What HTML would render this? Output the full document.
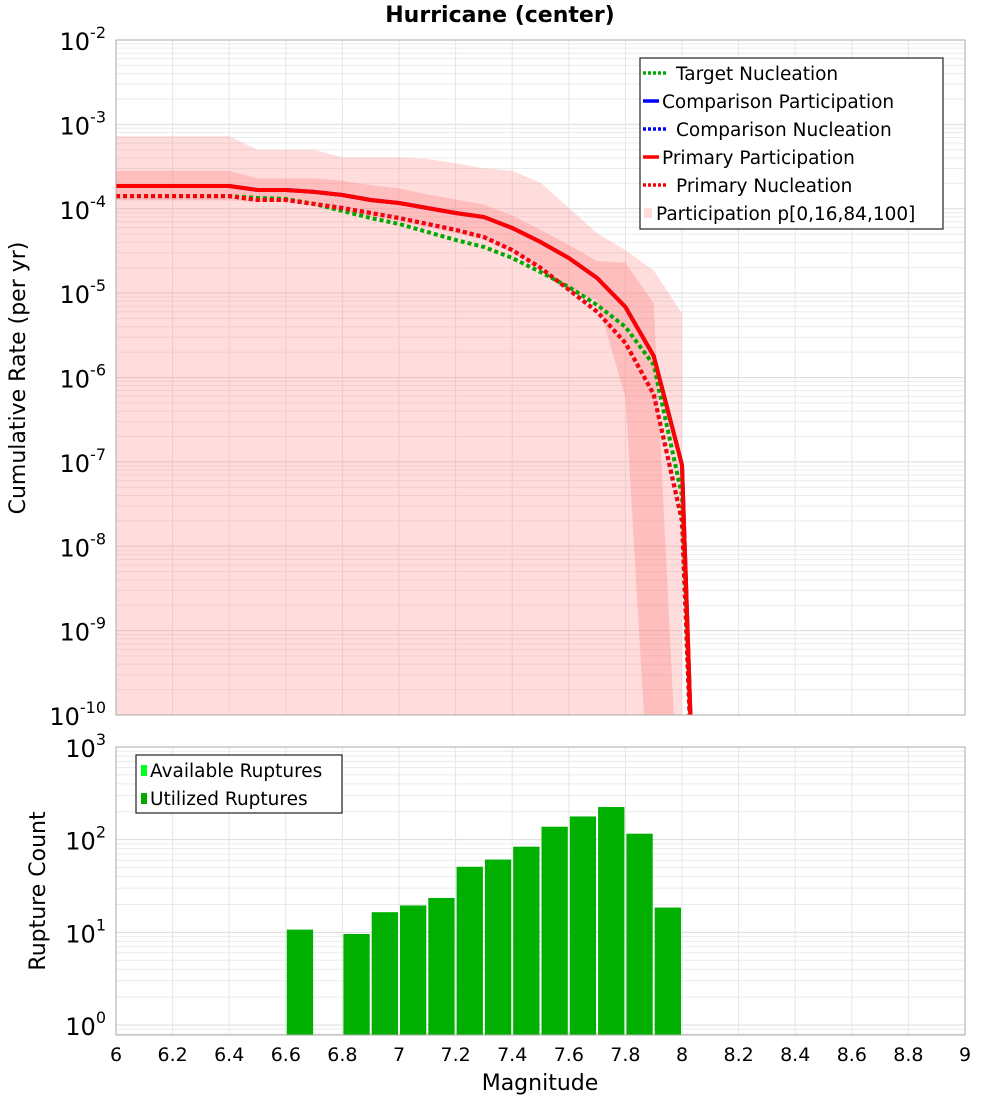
<!DOCTYPE html>
<html><head><meta charset="utf-8">
<style>
html,body{margin:0;padding:0;background:#fff;}
svg{display:block;font-family:"DejaVu Sans","Liberation Sans",sans-serif;}
</style></head>
<body>
<svg id="chart" width="1000" height="1100" viewBox="0 0 1000 1100" xmlns="http://www.w3.org/2000/svg">
<text x="500" y="22" text-anchor="middle" font-size="22" font-weight="bold">Hurricane (center)</text>
<g id="topPlot"></g>
<g id="botPlot"></g>
</svg>
<script>
// ---- data (top panel, log10 values) ----
const mags = [6.0,6.4,6.5,6.6,6.7,6.8,6.9,7.0,7.1,7.2,7.3,7.4,7.5,7.6,7.7,7.8,7.9,8.0,8.05];
const primaryPartLog = [-3.73,-3.73,-3.778,-3.778,-3.80,-3.837,-3.896,-3.932,-3.991,-4.05,-4.098,-4.228,-4.394,-4.584,-4.821,-5.164,-5.745,-7.037,-12];
const primaryNuclLog = [-3.85,-3.85,-3.896,-3.896,-3.943,-3.991,-4.05,-4.11,-4.18,-4.25,-4.335,-4.49,-4.70,-4.96,-5.22,-5.59,-6.20,-7.7,-12];
const targetNuclLog = [-3.85,-3.85,-3.872,-3.884,-3.943,-4.026,-4.11,-4.18,-4.275,-4.37,-4.453,-4.583,-4.75,-4.927,-5.14,-5.40,-5.85,-7.4,-12];
const bandX = [6.0,6.4,6.5,6.6,6.7,6.8,6.9,7.0,7.1,7.2,7.3,7.4,7.5,7.6,7.7,7.8,7.9,8.0];
const p100Log = [-3.14,-3.14,-3.30,-3.30,-3.30,-3.39,-3.39,-3.39,-3.41,-3.46,-3.52,-3.55,-3.69,-3.99,-4.29,-4.49,-4.73,-5.24];
const p84Log = [-3.55,-3.55,-3.64,-3.64,-3.64,-3.67,-3.72,-3.76,-3.83,-3.89,-3.95,-4.08,-4.25,-4.43,-4.62,-4.64,-5.12,-12];
const p16Log = [-3.90,-3.90,-3.92,-3.92,-3.97,-4.03,-4.09,-4.15,-4.22,-4.29,-4.37,-4.52,-4.72,-4.98,-5.08,-6.23,-12,-12];
// ---- data (bottom panel) ----
const binStarts = [6.6,6.8,6.9,7.0,7.1,7.2,7.3,7.4,7.5,7.6,7.7,7.8,7.9];
const ruptureCounts = [10.7,9.6,16.5,19.5,23.5,51,61,84,138,178,225,116,18.5];
const xTicks = ["6","6.2","6.4","6.6","6.8","7","7.2","7.4","7.6","7.8","8","8.2","8.4","8.6","8.8","9"];

const NS="http://www.w3.org/2000/svg";
function mk(parent,tag,attrs){const e=document.createElementNS(NS,tag);for(const k in attrs)e.setAttribute(k,attrs[k]);parent.appendChild(e);return e;}
const X0=116,X1=965;
const xs=m=>X0+(m-6)/3*(X1-X0);
const T0=40,T1=715; const yt=l=>T0+(-2-l)/8*(T1-T0);
const B0=747,B3=1025,B1=1035; const yb=v=>B0+(3-Math.log10(v))/3*(B3-B0);

const svgEl=document.getElementById('chart');
const defs=mk(svgEl,'defs',{});
const cp=mk(defs,'clipPath',{id:'clipTop'});mk(cp,'rect',{x:X0,y:T0,width:X1-X0,height:T1-T0});
const cp2=mk(defs,'clipPath',{id:'clipBot'});mk(cp2,'rect',{x:X0,y:B0,width:X1-X0,height:B1-B0});

function sup(parent,x,y,e){
  const t=mk(parent,'text',{x:x,y:y,'text-anchor':'end','font-size':24});
  
  
  const a=mk(t,'tspan',{});a.textContent='10';
  const b=mk(t,'tspan',{dy:-12,'font-size':16});b.textContent=String(e);
  return t;
}
function grid(g,y0,y1,yfun,decLo,decHi){
  for(let d=decLo;d<decHi;d++)for(let k=1;k<10;k++){const y=yfun(d+Math.log10(k));if(y<y0||y>y1)continue;
    const l=mk(g,'line',{x1:X0,x2:X1,y1:y,y2:y,stroke:k==1?'#dcdcdc':'#ebebeb','stroke-width':1});
    
    }
  for(let i=0;i<xTicks.length;i++){const x=xs(parseFloat(xTicks[i]));
    const l=mk(g,'line',{x1:x,x2:x,y1:y0,y2:y1,stroke:'#e6e6e6','stroke-width':1});
    
    }
}
// ---- top panel ----
const topG=document.getElementById('topPlot');
grid(topG,T0,T1,yt,-10,-2);
const clipT=mk(topG,'g',{'clip-path':'url(#clipTop)'});
function band(upper,lower,fill,name){
  let pts=bandX.map((m,i)=>xs(m)+','+yt(upper[i]));
  for(let i=bandX.length-1;i>=0;i--)pts.push(xs(bandX[i])+','+yt(lower[i]));
  const p=mk(clipT,'polygon',{points:pts.join(' '),fill:fill});
  
  
}
const lowBound=bandX.map(()=>-12);
band(p100Log,lowBound,'rgba(255,120,120,0.25)','band-p0-p100');
band(p84Log,p16Log,'rgba(255,120,120,0.3)','band-p16-p84');
function line(vals,color,dash,name){
  const d=mags.map((m,i)=>(i?'L':'M')+xs(m)+' '+yt(vals[i])).join(' ');
  const p=mk(clipT,'path',{d:d,fill:'none',stroke:color,'stroke-width':4,'stroke-dasharray':dash||'none'});
  
  
}
line(primaryPartLog,'#0000ff','','comparison-participation-line');
line(primaryNuclLog,'#0000ff','4 3','comparison-nucleation-line');
line(targetNuclLog,'#00aa00','4 3','target-nucleation-line');
line(primaryNuclLog,'#ff0000','4 3','primary-nucleation-line');
line(primaryPartLog,'#ff0000','','primary-participation-line');
mk(topG,'rect',{x:X0,y:T0,width:X1-X0,height:T1-T0,fill:'none',stroke:'#aaa','stroke-width':1});
for(let e=-2;e>=-10;e--){sup(topG,106,yt(e)+10,e);}
const yl=mk(topG,'text',{x:0,y:0,transform:'translate(25,378) rotate(-90)','text-anchor':'middle','font-size':22});


yl.textContent='Cumulative Rate (per yr)';
const lg=mk(topG,'g',{});


mk(lg,'rect',{x:640,y:58,width:303,height:171,fill:'#fff',stroke:'#222','stroke-width':1.2});
const items=[['Target Nucleation','#00aa00',1],['Comparison Participation','#0000ff',0],['Comparison Nucleation','#0000ff',1],['Primary Participation','#ff0000',0],['Primary Nucleation','#ff0000',1],['Participation p[0,16,84,100]','#fdd',2]];
items.forEach((it,i)=>{const y=73+i*28;
  if(it[2]==2){mk(lg,'rect',{x:644,y:y-5,width:8,height:10,fill:'#fdd'});}
  else mk(lg,'line',{x1:643,x2:it[2]?668:659,y1:y,y2:y,stroke:it[1],'stroke-width':3.5,'stroke-dasharray':it[2]?'3 2':'none'});
  const t=mk(lg,'text',{x:it[2]==1?676:(it[2]==2?656:662),y:y+7,'font-size':18.5});
  
  
  t.textContent=it[0];});
// ---- bottom panel ----
const botG=document.getElementById('botPlot');
grid(botG,B0,B1,l=>yb(Math.pow(10,l)),-1,3);
const clipB=mk(botG,'g',{'clip-path':'url(#clipBot)'});
binStarts.forEach((m,i)=>{const x=xs(m)+1,w=xs(m+0.1)-xs(m)-2,y=yb(ruptureCounts[i]);
  const r=mk(clipB,'rect',{x:x,y:y,width:w,height:B1-y+5,fill:'#00b000'});
  
  });
mk(botG,'rect',{x:X0,y:B0,width:X1-X0,height:B1-B0,fill:'none',stroke:'#aaa','stroke-width':1});
for(let e=3;e>=0;e--){sup(botG,106,yb(Math.pow(10,e))+10,e);}
xTicks.forEach(s=>{const t=mk(botG,'text',{x:xs(parseFloat(s)),y:1061,'text-anchor':'middle','font-size':19});
  
  
  t.textContent=s;});
const by=mk(botG,'text',{x:0,y:0,transform:'translate(45,891) rotate(-90)','text-anchor':'middle','font-size':22});


by.textContent='Rupture Count';
const xt=mk(botG,'text',{x:540,y:1090,'text-anchor':'middle','font-size':22});


xt.textContent='Magnitude';
const lg2=mk(botG,'g',{});


mk(lg2,'rect',{x:136,y:755,width:206,height:58,fill:'#fff',stroke:'#222','stroke-width':1.2});
[['Available Ruptures','#00ff22'],['Utilized Ruptures','#00aa00']].forEach((it,i)=>{const y=770+i*28;
  mk(lg2,'rect',{x:141,y:y-5,width:6,height:11,fill:it[1]});
  const t=mk(lg2,'text',{x:150,y:y+7,'font-size':18.5});
  
  
  t.textContent=it[0];});
</script>
</body></html>
